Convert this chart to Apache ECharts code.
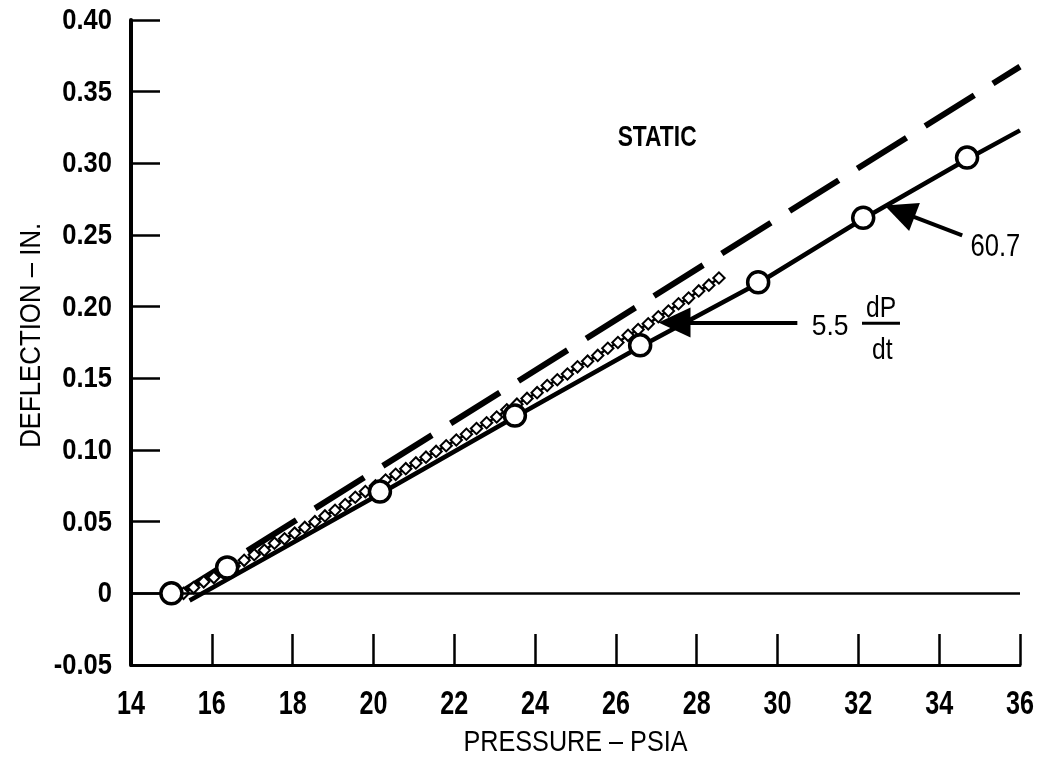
<!DOCTYPE html>
<html>
<head>
<meta charset="utf-8">
<script src="https://cdn.jsdelivr.net/npm/echarts@6/dist/echarts.min.js"></script>
<style>
  html, body { margin: 0; padding: 0; background: #fff; }
  #main { width: 1039px; height: 767px; }
</style>
</head>
<body>
<div id="main"></div>
<script>
// data
var xTicks = [14, 16, 18, 20, 22, 24, 26, 28, 30, 32, 34, 36];
var yTicks = [-0.05, 0, 0.05, 0.10, 0.15, 0.20, 0.25, 0.30, 0.35, 0.40];
var yTickLabels = ['-0.05', '0', '0.05', '0.10', '0.15', '0.20', '0.25', '0.30', '0.35', '0.40'];

// static (dashed)
var pressureStatic = [15.2, 36.0];
var deflectionStatic = [0.0, 0.3675];

// 60.7 curve (solid line)
var pressureSolid = [15.45, 20.2, 23.5, 26.6, 29.5, 32.1, 34.7, 36.0];
var deflectionSolid = [-0.005, 0.070, 0.123, 0.172, 0.216, 0.261, 0.303, 0.323];

// 60.7 test points (circles)
var pressureCircles = [15.0, 16.38, 20.16, 23.5, 26.6, 29.52, 32.12, 34.69];
var deflectionCircles = [0.0, 0.018, 0.071, 0.124, 0.173, 0.217, 0.262, 0.304];

// 5.5 dP/dt (small markers)
var pressureDyn = [15.30,15.55,15.80,16.05,16.30,16.55,16.80,17.05,17.30,17.55,17.80,18.05,18.30,18.55,18.80,19.05,19.30,19.55,19.80,20.05,20.30,20.55,20.80,21.05,21.30,21.55,21.80,22.05,22.30,22.55,22.80,23.05,23.30,23.55,23.80,24.05,24.30,24.55,24.80,25.05,25.30,25.55,25.80,26.05,26.30,26.55,26.80,27.05,27.30,27.55,27.80,28.05,28.30,28.55];
var deflectionDyn = [0.000,0.004,0.008,0.011,0.016,0.019,0.023,0.027,0.030,0.035,0.038,0.042,0.046,0.050,0.054,0.058,0.062,0.067,0.071,0.075,0.079,0.083,0.087,0.091,0.095,0.099,0.103,0.107,0.111,0.115,0.119,0.123,0.128,0.132,0.136,0.140,0.145,0.149,0.153,0.158,0.162,0.166,0.171,0.175,0.180,0.184,0.188,0.193,0.197,0.202,0.206,0.211,0.215,0.220];

function zip(xs, ys) {
    var out = [];
    for (var i = 0; i < xs.length; i++) out.push([xs[i], ys[i]]);
    return out;
}

var face = "'Liberation Sans', Arial, Helvetica, sans-serif";

var myChart = echarts.init(document.getElementById('main'));
myChart.setOption({
    animation: false,
    backgroundColor: '#fff',
    grid: { left: 131, right: 19, top: 20, bottom: 102 },
    xAxis: {
        type: 'value',
        min: xTicks[0],
        max: xTicks[xTicks.length - 1],
        interval: 2,
        axisLine: { onZero: false, lineStyle: { color: '#000', width: 3 } },
        axisTick: { inside: true, length: 31, lineStyle: { color: '#000', width: 2.5 } },
        axisLabel: { show: false },
        splitLine: { show: false }
    },
    yAxis: {
        type: 'value',
        min: yTicks[0],
        max: yTicks[yTicks.length - 1],
        interval: 0.05,
        axisLine: { lineStyle: { color: '#000', width: 4 } },
        axisTick: { inside: true, length: 29, lineStyle: { color: '#000', width: 2.5 } },
        axisLabel: { show: false },
        splitLine: { show: false }
    },
    series: [
        {
            name: 'STATIC',
            type: 'line',
            data: zip(pressureStatic, deflectionStatic),
            showSymbol: false,
            lineStyle: { color: '#000', width: 6, type: [58, 22], cap: 'butt' },
            z: 2,
            markLine: {
                silent: true,
                symbol: 'none',
                label: { show: false },
                lineStyle: { color: '#000', width: 2.5, type: 'solid' },
                data: [{ yAxis: 0 }]
            }
        },
        {
            name: '60.7',
            type: 'line',
            data: zip(pressureSolid, deflectionSolid),
            showSymbol: false,
            lineStyle: { color: '#000', width: 4.5 },
            z: 3,
            markLine: {
                silent: true,
                symbol: ['none', 'triangle'],
                symbolSize: [30, 32],
                label: { show: false },
                lineStyle: { color: '#000', width: 4, type: 'solid' },
                itemStyle: { color: '#000' },
                data: [
                    [{ coord: [34.57, 0.2497] }, { coord: [33.02, 0.2665] }],
                    [{ coord: [30.49, 0.1890] }, { coord: [27.45, 0.1890] }]
                ]
            }
        },
        {
            name: '5.5 dP/dt',
            type: 'line',
            data: zip(pressureDyn, deflectionDyn),
            symbol: 'rect',
            symbolRotate: 45,
            symbolSize: 8,
            showAllSymbol: true,
            itemStyle: { color: '#fff', borderColor: '#000', borderWidth: 2 },
            lineStyle: { color: '#000', width: 2.5 },
            z: 4
        },
        {
            name: 'points',
            type: 'scatter',
            data: zip(pressureCircles, deflectionCircles),
            symbol: 'circle',
            symbolSize: 21,
            itemStyle: { color: '#fff', borderColor: '#000', borderWidth: 3.5, opacity: 1 },
            z: 5
        }
    ]
});

// texts drawn as graphic text (condensed with scaleX to match the typeface)
function px(v) { return myChart.convertToPixel({ gridIndex: 0 }, v); }
function txt(s, x, y, size, weight, sx, align, rot) {
    return {
        type: 'text', x: x, y: y, z: 10, scaleX: sx, rotation: rot || 0,
        style: {
            text: s, fill: '#000', font: weight + ' ' + size + 'px ' + face,
            align: align || 'center', verticalAlign: 'middle'
        }
    };
}

var graphics = [];
var origin = px([xTicks[0], yTicks[0]]);
yTicks.forEach(function (v, i) {
    var p = px([xTicks[0], v]);
    graphics.push(txt(yTickLabels[i], p[0] - 19, p[1] + 1, 29, 'bold', 0.88, 'right'));
});
xTicks.forEach(function (v) {
    var p = px([v, yTicks[0]]);
    graphics.push(txt(String(v), p[0], p[1] + 40, 34, 'bold', 0.74, 'center'));
});
var xMid = px([25, yTicks[0]]);
graphics.push(txt('PRESSURE – PSIA', xMid[0], xMid[1] + 78, 30, 'normal', 0.84, 'center'));
var yMid = px([xTicks[0], 0.18]);
graphics.push(txt('DEFLECTION – IN.', origin[0] - 99, yMid[1], 30, 'normal', 0.86, 'center', Math.PI / 2));

// annotations placed in data coordinates
var notes = [
    { text: 'STATIC', at: [27.02, 0.3176], size: 30, sx: 0.76, weight: 'bold' },
    { text: '60.7', at: [35.39, 0.2413], size: 32, sx: 0.8, weight: 'normal' },
    { text: '5.5', at: [31.30, 0.1860], size: 30, sx: 0.88, weight: 'normal' },
    { text: 'dP', at: [32.56, 0.1985], size: 29, sx: 0.85, weight: 'normal' },
    { text: 'dt', at: [32.59, 0.1690], size: 29, sx: 0.85, weight: 'normal' }
];
notes.forEach(function (n) {
    var p = px(n.at);
    graphics.push(txt(n.text, p[0], p[1], n.size, n.weight, n.sx, 'center'));
});
var b0 = px([32.09, 0.1885]);
var b1 = px([33.03, 0.1885]);
graphics.push({
    type: 'line', z: 10,
    shape: { x1: b0[0], y1: b0[1], x2: b1[0], y2: b1[1] },
    style: { stroke: '#000', lineWidth: 3 }
});
myChart.setOption({ graphic: graphics });
</script>
</body>
</html>
